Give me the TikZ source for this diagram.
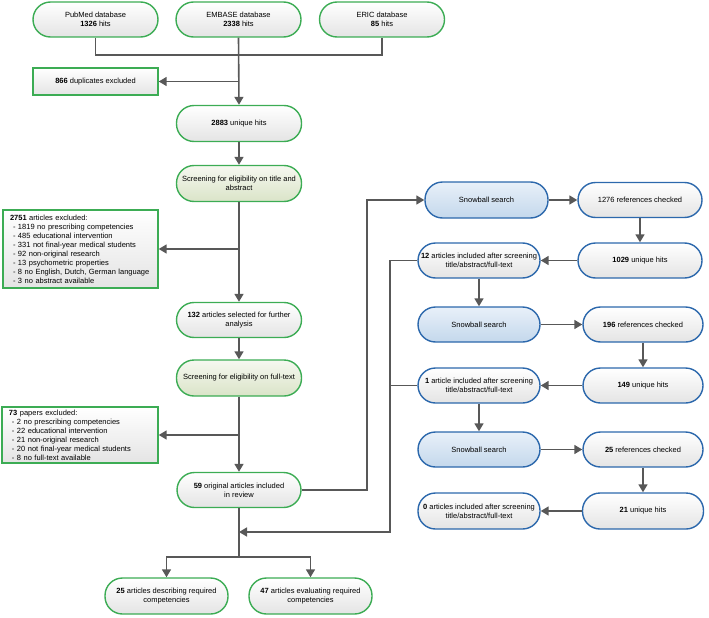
\documentclass[tikz,border=0pt]{standalone}
\usepackage{fontspec}
\setmainfont{Liberation Sans}
\usetikzlibrary{arrows.meta}
\definecolor{gborder}{RGB}{60,172,84}
\definecolor{bborder}{RGB}{44,104,172}
\definecolor{lgray}{RGB}{88,88,88}
\definecolor{scrtop}{RGB}{246,248,240}
\definecolor{scrbot}{RGB}{218,228,200}
\definecolor{sbtop}{RGB}{232,240,249}
\definecolor{sbbot}{RGB}{196,216,236}
\definecolor{wbot}{RGB}{228,228,228}
\begin{document}
\begin{tikzpicture}[x=1pt,y=-1pt,
  base/.style={line width=1.4pt, align=center, inner sep=2pt,
    font=\fontsize{7.5}{9}\selectfont, text=black},
  gpill/.style={base, draw=gborder, rounded corners=17.5pt, top color=white, bottom color=wbot,
    minimum width=125pt, minimum height=35pt},
  spill/.style={gpill, top color=scrtop, bottom color=scrbot},
  gbox/.style={base, draw=gborder, top color=white, bottom color=wbot, align=left},
  bpill/.style={base, draw=bborder, rounded corners=17.5pt, top color=white, bottom color=wbot,
    minimum width=122pt, minimum height=35pt},
  sbpill/.style={bpill, top color=sbtop, bottom color=sbbot},
  conn/.style={draw=lgray, line width=1.6pt},
  arr/.style={conn, -{Triangle[length=8pt,width=9pt]}}
]
\useasboundingbox (0,0) rectangle (709,618);

% top databases
\node[gpill] (pub) at (95.5,19.5) {PubMed database\\\textbf{1326} hits};
\node[gpill] (emb) at (238.5,19.5) {EMBASE database\\\textbf{2338} hits};
\node[gpill] (eric) at (382,19.5) {ERIC database\\\textbf{85} hits};

\node[gbox, minimum width=125pt, minimum height=27pt, align=center] (dup) at (95.5,81.5) {\textbf{866} duplicates excluded};
\node[gpill, minimum height=36pt] (uniq) at (239,123.5) {\textbf{2883} unique hits};
\node[spill, minimum height=36pt] (scr1) at (239,183.5) {Screening for eligibility on title and\\abstract};

\node[gbox, text width=141pt, inner xsep=7pt, minimum height=78pt] (exc1) at (80.5,249) {\textbf{2751} articles excluded:\\
\hspace*{3pt}- 1819 no prescribing competencies\\
\hspace*{3pt}- 485 educational intervention\\
\hspace*{3pt}- 331 not final-year medical students\\
\hspace*{3pt}- 92 non-original research\\
\hspace*{3pt}- 13 psychometric properties\\
\hspace*{3pt}- 8 no English, Dutch, German language\\
\hspace*{3pt}- 3 no abstract available};

\node[gpill] (sel) at (239,320) {\textbf{132} articles selected for further\\analysis};
\node[spill, minimum height=36pt] (scr2) at (239,378) {Screening for eligibility on full-text};

\node[gbox, text width=142pt, inner xsep=7pt, minimum height=56pt] (exc2) at (80,435) {\textbf{73} papers excluded:\\
\hspace*{3pt}- 2 no prescribing competencies\\
\hspace*{3pt}- 22 educational intervention\\
\hspace*{3pt}- 21 non-original research\\
\hspace*{3pt}- 20 not final-year medical students\\
\hspace*{3pt}- 8 no full-text available};

\node[gpill, minimum width=124pt] (inc) at (239,490) {\textbf{59} original articles included\\in review};
\node[gpill, minimum width=123pt, minimum height=36pt] (desc) at (166.5,596) {\textbf{25} articles describing required\\competencies};
\node[gpill, minimum width=123pt, minimum height=36pt] (eval) at (310.5,596) {\textbf{47} articles evaluating required\\competencies};

% snowball side
\node[sbpill, minimum width=123pt, minimum height=36pt] (sb1) at (486.5,200) {Snowball search};
\node[bpill, minimum width=124pt] (r1) at (640,200) {1276 references checked};
\node[bpill, minimum width=124pt] (u1) at (640,260.5) {\textbf{1029} unique hits};
\node[bpill] (a1) at (479,260.5) {\textbf{12} articles included after screening\\title/abstract/full-text};

\node[sbpill] (sb2) at (479,324.5) {Snowball search};
\node[bpill, minimum width=120pt] (r2) at (643,324.5) {\textbf{196} references checked};
\node[bpill, minimum width=120pt] (u2) at (643,385.5) {\textbf{149} unique hits};
\node[bpill] (a2) at (479,385.5) {\textbf{1} article included after screening\\title/abstract/full-text};

\node[sbpill] (sb3) at (479,449.5) {Snowball search};
\node[bpill, minimum width=120pt] (r3) at (643,449.5) {\textbf{25} references checked};
\node[bpill, minimum width=121pt, minimum height=36pt] (u3) at (643,511) {\textbf{21} unique hits};
\node[bpill, minimum height=36pt] (a3) at (479,511) {\textbf{0} articles included after screening\\title/abstract/full-text};

% coordinates
\coordinate (j1) at (238.5,55);
\coordinate (k1) at (367,490);
\coordinate (k2) at (390,532);
\coordinate (m) at (239,532);
\coordinate (sp) at (239,557);

% connectors main column
\draw[conn] (pub.south) |- (j1) -| (eric.south);
\draw[arr] (emb.south) -- (uniq.north);
\draw[arr] (emb.south |- dup.east) -- (dup.east);
\draw[arr] (uniq.south) -- (scr1.north);
\draw[arr] (scr1.south) -- (sel.north);
\draw[arr] (scr1.south |- exc1.east) -- (exc1.east);
\draw[arr] (sel.south) -- (scr2.north);
\draw[arr] (scr2.south) -- (inc.north);
\draw[arr] (scr2.south |- exc2.east) -- (exc2.east);
\draw[conn] (inc.south) -- (sp);
\draw[arr] (sp) -| (desc.north);
\draw[arr] (sp) -| (eval.north);

% snowball connectors
\draw[arr] (inc.east) -- (k1) |- (sb1.west);
\draw[arr] (sb1.east) -- (r1.west);
\draw[arr] (r1.south) -- (u1.north);
\draw[arr] (u1.west) -- (a1.east);
\draw[arr] (a1.south) -- (sb2.north);
\draw[arr] (sb2.east) -- (r2.west);
\draw[arr] (r2.south) -- (u2.north);
\draw[arr] (u2.west) -- (a2.east);
\draw[arr] (a2.south) -- (sb3.north);
\draw[arr] (sb3.east) -- (r3.west);
\draw[arr] (r3.south) -- (u3.north);
\draw[arr] (u3.west) -- (a3.east);
\draw[arr] (a1.west) -| (k2) -- (m);
\draw[conn] (a2.west) -- (a2.west -| k2);
\end{tikzpicture}
\end{document}
